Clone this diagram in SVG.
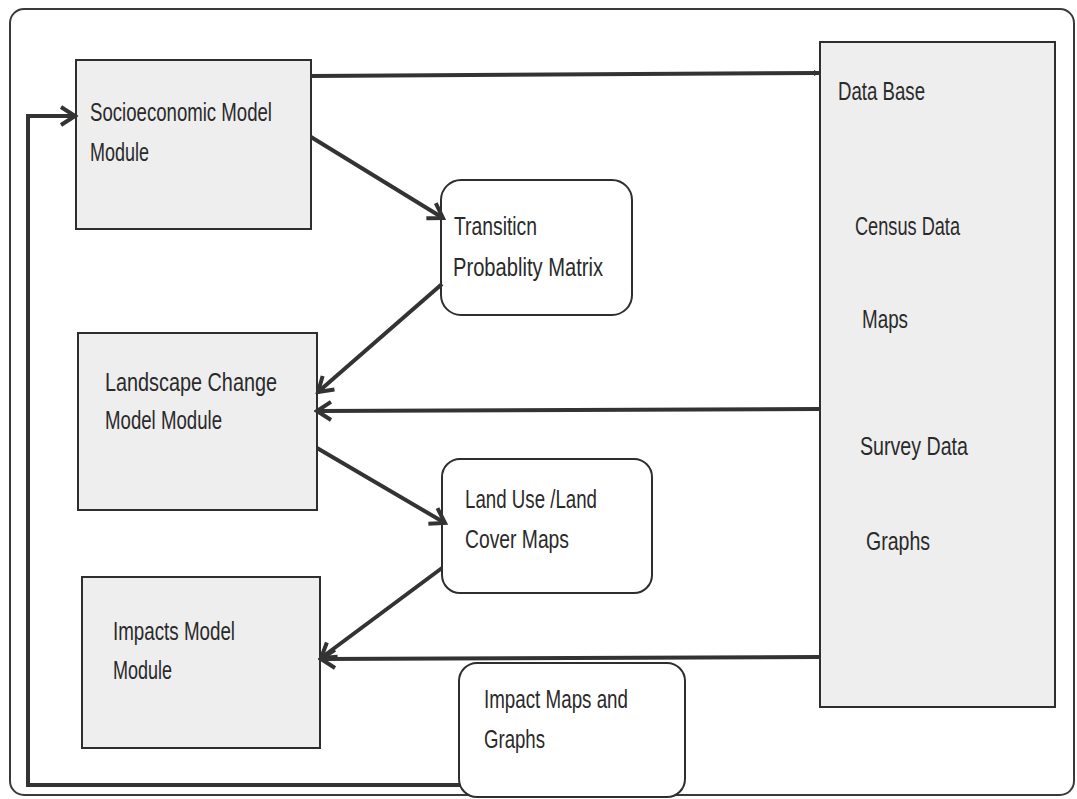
<svg xmlns="http://www.w3.org/2000/svg" width="1077" height="799" viewBox="0 0 1077 799">
  <style>
    .frame { fill: #ffffff; stroke: #3a3a3a; stroke-width: 2; }
    .module { fill: #eeeeee; stroke: #2e2e2e; stroke-width: 2; }
    .output { fill: #ffffff; stroke: #2e2e2e; stroke-width: 2; }
    .lbl { font-family: "Liberation Sans", Arial, sans-serif; font-size: 26px; fill: #2a2a2a; }
    .flow { fill: none; stroke: #333333; stroke-width: 4; stroke-linejoin: miter; }
  </style>
  <defs>
    <marker id="head" markerUnits="userSpaceOnUse" markerWidth="22" markerHeight="22" viewBox="0 0 22 22" refX="19" refY="11" orient="auto">
      <path d="M5,2 L19,11 L5,20" fill="none" stroke="#333333" stroke-width="4"/>
    </marker>
    <marker id="tip" markerUnits="userSpaceOnUse" markerWidth="8" markerHeight="8" viewBox="0 0 8 8" refX="7" refY="4" orient="auto">
      <path d="M1,1 L7,4 L1,7 Z" fill="#333333"/>
    </marker>
  </defs>

  <rect width="1077" height="799" fill="#ffffff"/>
  <!-- outer frame -->
  <rect class="frame" x="10" y="9" width="1064" height="786" rx="14"/>

  <g id="socioeconomic">
    <rect class="module" x="76" y="60" width="235" height="169"/>
    <text class="lbl" x="90" y="121" textLength="182" lengthAdjust="spacingAndGlyphs">Socioeconomic Model</text>
    <text class="lbl" x="90" y="161" textLength="59" lengthAdjust="spacingAndGlyphs">Module</text>
  </g>

  <g id="transition">
    <rect class="output" x="441" y="180" width="191" height="135" rx="20"/>
    <text class="lbl" x="454" y="235" textLength="83" lengthAdjust="spacingAndGlyphs">Transiticn</text>
    <text class="lbl" x="453" y="276" textLength="150" lengthAdjust="spacingAndGlyphs">Probablity Matrix</text>
  </g>

  <g id="landscape">
    <rect class="module" x="78" y="333" width="239" height="177"/>
    <text class="lbl" x="105" y="391" textLength="172" lengthAdjust="spacingAndGlyphs">Landscape Change</text>
    <text class="lbl" x="105" y="429" textLength="117" lengthAdjust="spacingAndGlyphs">Model Module</text>
  </g>

  <g id="landuse">
    <rect class="output" x="442" y="459" width="210" height="134" rx="18"/>
    <text class="lbl" x="465" y="508" textLength="132" lengthAdjust="spacingAndGlyphs">Land Use /Land</text>
    <text class="lbl" x="465" y="548" textLength="104" lengthAdjust="spacingAndGlyphs">Cover Maps</text>
  </g>

  <g id="impacts">
    <rect class="module" x="82" y="577" width="238" height="171"/>
    <text class="lbl" x="113" y="640" textLength="122" lengthAdjust="spacingAndGlyphs">Impacts Model</text>
    <text class="lbl" x="113" y="679" textLength="59" lengthAdjust="spacingAndGlyphs">Module</text>
  </g>

  <g id="database">
    <rect class="module" x="820" y="42" width="235" height="665"/>
    <text class="lbl" x="838" y="100" textLength="87" lengthAdjust="spacingAndGlyphs">Data Base</text>
    <text class="lbl" x="855" y="235" textLength="105" lengthAdjust="spacingAndGlyphs">Census Data</text>
    <text class="lbl" x="862" y="328" textLength="46" lengthAdjust="spacingAndGlyphs">Maps</text>
    <text class="lbl" x="860" y="455" textLength="108" lengthAdjust="spacingAndGlyphs">Survey Data</text>
    <text class="lbl" x="866" y="550" textLength="64" lengthAdjust="spacingAndGlyphs">Graphs</text>
  </g>

  <g id="connectors">
    <!-- module to data base -->
    <path class="flow" d="M311,76 L820,73" marker-end="url(#tip)"/>
    <!-- socioeconomic to transition matrix -->
    <path class="flow" d="M311,137 L443,218" marker-end="url(#head)"/>
    <!-- transition matrix to landscape change -->
    <path class="flow" d="M442,284 L318,392" marker-end="url(#head)"/>
    <!-- data base to landscape change -->
    <path class="flow" d="M820,409 L317,411" marker-end="url(#head)"/>
    <!-- landscape change to land use maps -->
    <path class="flow" d="M317,448 L445,523" marker-end="url(#head)"/>
    <!-- land use maps to impacts -->
    <path class="flow" d="M442,568 L321,658" marker-end="url(#head)"/>
    <!-- data base to impacts -->
    <path class="flow" d="M820,657 L321,659" marker-end="url(#head)"/>
    <!-- feedback from impact maps back to socioeconomic -->
    <path class="flow" d="M460,785 L28,785 L28,116 L75,116" marker-end="url(#head)"/>
  </g>

  <!-- output box sits over the frame's lower edge -->
  <g id="impact-maps">
    <rect class="output" x="459" y="663" width="226" height="134" rx="18"/>
    <text class="lbl" x="484" y="708" textLength="144" lengthAdjust="spacingAndGlyphs">Impact Maps and</text>
    <text class="lbl" x="484" y="748" textLength="61" lengthAdjust="spacingAndGlyphs">Graphs</text>
  </g>
</svg>
